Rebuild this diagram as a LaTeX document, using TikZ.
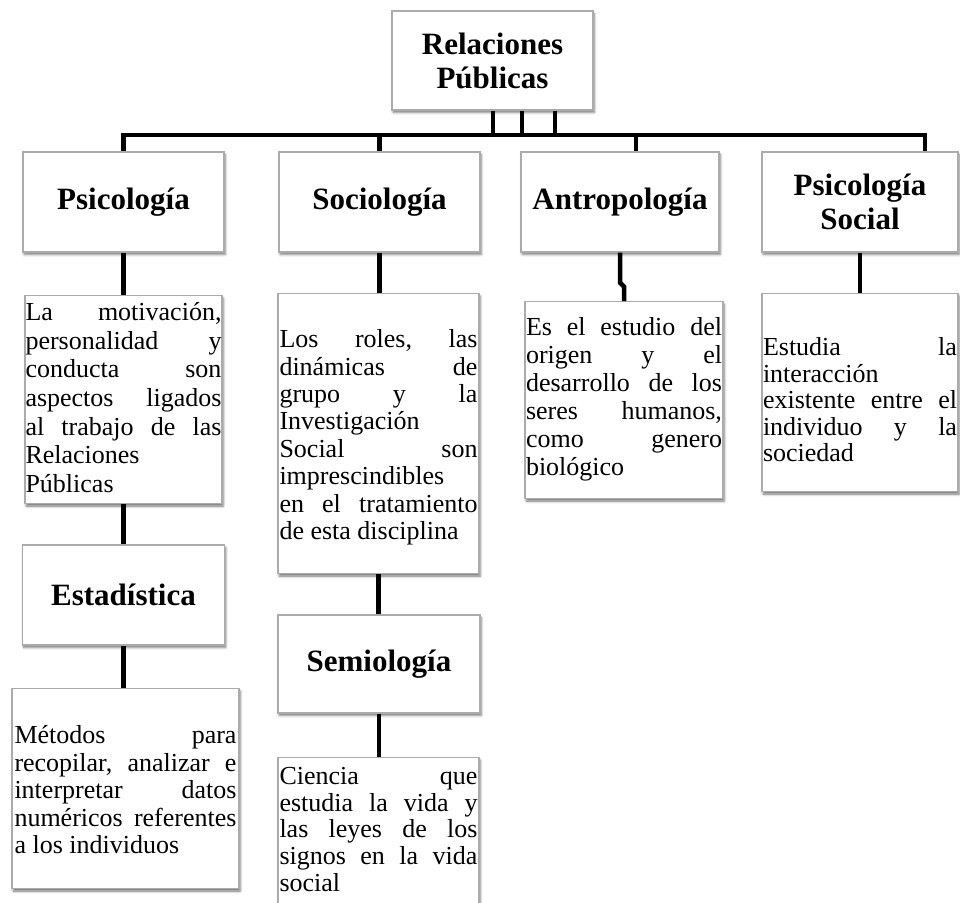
\documentclass[tikz,border=0pt]{standalone}
\usepackage{fontspec}
\setmainfont{Liberation Serif}
\usetikzlibrary{shadows.blur}
% #1 text width, #2 box height, #3 top gap, #4 baselineskip, #5 lines
\newcommand\DESC[5]{\vbox to #2{\hsize=#1\relax\fontsize{26}{#4}\selectfont\vskip #3\relax #5\vfil}}
\newcommand\JL[1]{\hbox to\hsize{\strut #1}}
\newcommand\LL[1]{\hbox to\hsize{\strut #1\hfil}}
\begin{document}
\begin{tikzpicture}[x=1pt,y=-1pt,
  box/.style={draw=black!33, line width=1.3pt, fill=white, inner sep=0pt,
    blur shadow={shadow xshift=1.2pt, shadow yshift=-2.4pt, shadow blur radius=2.5pt, shadow opacity=55}},
  head/.style={box, align=center, font=\fontsize{31}{34}\selectfont\bfseries},
  desc/.style={box, inner ysep=0pt},
  conn/.style={line width=4.5pt, black}]
\useasboundingbox (0,0) rectangle (960,902);
\clip (0,0) rectangle (960,902);

% headings
\node[head, minimum width=201pt, minimum height=99pt] (rp) at (492.5,60.5) {Relaciones\\Públicas};
\node[head, minimum width=201pt, minimum height=100pt] (psi) at (123.5,202) {Psicología};
\node[head, minimum width=201pt, minimum height=100pt] (soc) at (379.5,202) {Sociología};
\node[head, minimum width=198pt, minimum height=100pt] (ant) at (620,202) {Antropología};
\node[head, minimum width=196pt, minimum height=100pt] (psoc) at (860,202) {Psicología\\Social};
\node[head, minimum width=202pt, minimum height=100pt] (est) at (123.5,595) {Estadística};
\node[head, minimum width=202pt, minimum height=98pt] (sem) at (379,664) {Semiología};

% descriptions
\node[desc, inner xsep=0.5pt, anchor=north] (psid) at (123.5,295)
 {\DESC{196pt}{208pt}{5pt}{28.6pt}{%
  \JL{La \hfill motivación,}\JL{personalidad \hfill y}\JL{conducta \hfill son}%
  \JL{aspectos \hfill ligados}\JL{al \hfill trabajo \hfill de \hfill las}\LL{Relaciones}\LL{Públicas}}};
\node[desc, inner xsep=1.5pt, anchor=north] (socd) at (378.5,293)
 {\DESC{198pt}{280pt}{34.8pt}{27.4pt}{%
  \JL{Los \hfill roles, \hfill las}\JL{dinámicas \hfill de}\JL{grupo \hfill y \hfill la}%
  \LL{Investigación}\JL{Social \hfill son}\LL{imprescindibles}%
  \JL{en \hfill el \hfill tratamiento}\LL{de esta disciplina}}};
\node[desc, inner xsep=1pt, anchor=north] (antd) at (624,301)
 {\DESC{196pt}{197pt}{14.4pt}{28pt}{%
  \JL{Es \hfill el \hfill estudio \hfill del}\JL{origen \hfill y \hfill el}%
  \JL{desarrollo \hfill de \hfill los}\JL{seres \hfill humanos,}\JL{como \hfill genero}\LL{biológico}}};
\node[desc, inner xsep=1pt, anchor=north] (psocd) at (860,293)
 {\DESC{194pt}{198pt}{43.5pt}{26.5pt}{%
  \JL{Estudia \hfill la}\LL{interacción}\JL{existente \hfill entre \hfill el}%
  \JL{individuo \hfill y \hfill la}\LL{sociedad}}};
\node[desc, inner xsep=2.5pt, anchor=north] (estd) at (125.5,688)
 {\DESC{222pt}{200pt}{35.7pt}{27.5pt}{%
  \JL{Métodos \hfill para}\JL{recopilar, \hfill analizar \hfill e}\JL{interpretar \hfill datos}%
  \JL{numéricos \hfill referentes}\LL{a los individuos}}};
\node[desc, inner xsep=1.5pt, anchor=north] (semd) at (378.5,757)
 {\DESC{198pt}{170pt}{9.3pt}{25.3pt}{%
  \JL{Ciencia \hfill que}\JL{estudia \hfill la \hfill vida \hfill y}\JL{las \hfill leyes \hfill de \hfill los}%
  \JL{signos \hfill en \hfill la \hfill vida}\LL{social}}};

% connectors
\coordinate (busL) at (123.5,135);
\draw[conn] (psi.north) |- ([xshift=65pt]psoc.north |- busL) -- ([xshift=65pt]psoc.north);
\draw[conn] (soc.north) -- (soc.north |- busL);
\draw[conn] ([xshift=16pt]ant.north) -- ([xshift=16pt]ant.north |- busL);
\foreach \o in {0.5,29.5,62.5}
  \draw[conn] ([xshift=\o pt]rp.south) -- ([xshift=\o pt]rp.south |- busL);
\draw[conn] (psi.south) -- (psid.north);
\draw[conn] (psid.south) -- (est.north);
\draw[conn] (est.south) -- (est.south |- estd.north);
\draw[conn] (soc.south) -- (soc.south |- socd.north);
\draw[conn] (socd.south) -- (socd.south |- sem.north);
\draw[conn] (sem.south) -- (sem.south |- semd.north);
\draw[conn] (ant.south) -- ++(0,30) -- ++(4,4) -- (antd.north);
\draw[conn] (psoc.south) -- (psocd.north);
\end{tikzpicture}
\end{document}
